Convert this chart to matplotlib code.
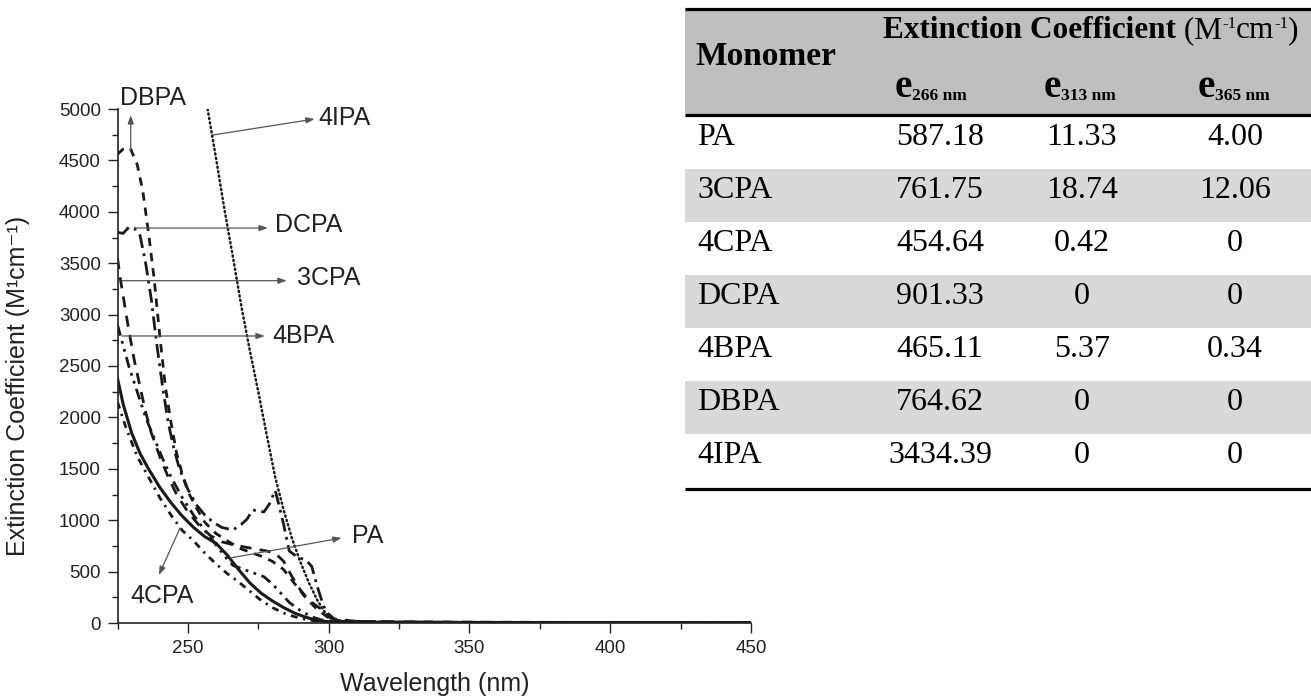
import matplotlib
matplotlib.use('Agg')
import matplotlib.pyplot as plt
from matplotlib.patches import Rectangle
from matplotlib.ticker import MultipleLocator

plt.rcParams['font.family'] = ['Liberation Sans', 'DejaVu Sans']

# --- spectra (wavelength nm, extinction coefficient) ---
pa_wl = [225, 227, 230, 233, 236, 240, 244, 248, 252, 256, 260, 264, 268, 272, 276, 280, 284, 288, 292, 296, 300, 310, 330, 360, 400, 450]
pa_val = [2380, 2130, 1850, 1650, 1500, 1320, 1170, 1040, 930, 840, 775, 660, 520, 390, 290, 215, 150, 95, 55, 25, 12, 8, 6, 5, 5, 4]

cpa4_wl = [225, 228, 232, 236, 240, 244, 248, 252, 256, 260, 264, 268, 272, 276, 280, 285, 290, 295, 300, 320, 360, 450]
cpa4_val = [2150, 1900, 1620, 1420, 1220, 1050, 900, 800, 680, 575, 480, 400, 310, 220, 150, 85, 45, 20, 10, 6, 5, 3]

bpa4_wl = [225, 227, 229, 232, 235, 238, 241, 244, 248, 252, 256, 260, 264, 266, 270, 274, 277, 280, 283, 286, 290, 294, 298, 302, 350, 450]
bpa4_val = [2900, 2700, 2500, 2250, 2000, 1800, 1600, 1420, 1220, 1050, 900, 760, 620, 560, 520, 480, 450, 380, 290, 200, 120, 60, 25, 10, 5, 3]

cpa3_wl = [225, 226, 227.5, 229, 231, 233, 235, 237, 240, 243, 246, 250, 254, 258, 262, 266, 270, 274, 278, 281, 284, 287, 290, 293, 296, 299, 302, 310, 350, 400, 450]
cpa3_val = [3550, 3350, 3100, 2850, 2550, 2300, 2050, 1850, 1620, 1420, 1250, 1080, 950, 850, 790, 762, 740, 720, 700, 680, 600, 450, 320, 220, 160, 110, 40, 15, 8, 5, 3]

dcpa_wl = [225, 227, 229, 231, 233, 235, 237, 239, 241, 243, 245, 247, 250, 253, 256, 259, 262, 266, 269, 271, 273, 275, 277, 279, 281, 282.5, 284, 286, 289, 292, 294, 296, 298, 300, 303, 320, 360, 450]
dcpa_val = [3800, 3790, 3850, 3840, 3770, 3500, 3150, 2700, 2300, 1950, 1700, 1500, 1300, 1150, 1050, 980, 930, 905, 960, 1010, 1100, 1090, 1080, 1160, 1290, 1130, 960, 700, 640, 610, 550, 350, 180, 60, 20, 10, 6, 4]

dbpa_wl = [225, 227, 229.5, 232, 234, 236, 238, 240, 242, 244, 246, 248, 250, 253, 256, 260, 264, 266, 268, 272, 276, 280, 284, 288, 292, 296, 300, 305, 320, 350, 400, 450]
dbpa_val = [4560, 4610, 4620, 4460, 4200, 3800, 3350, 2800, 2300, 1950, 1650, 1450, 1280, 1120, 980, 870, 800, 766, 730, 690, 650, 600, 520, 380, 240, 130, 50, 15, 8, 5, 4, 3]

ipa4_wl = [257, 260, 263, 266, 269, 272, 275, 278, 281, 284, 287, 290, 293, 296, 299, 301, 305, 320, 360, 400, 450]
ipa4_val = [5000, 4520, 4020, 3560, 3080, 2650, 2250, 1830, 1420, 1100, 820, 590, 390, 220, 90, 40, 15, 8, 6, 5, 4]

# --- table ---
monomers = ['PA', '3CPA', '4CPA', 'DCPA', '4BPA', 'DBPA', '4IPA']
e266 = ['587.18', '761.75', '454.64', '901.33', '465.11', '764.62', '3434.39']
e313 = ['11.33', '18.74', '0.42', '0', '5.37', '0', '0']
e365 = ['4.00', '12.06', '0', '0', '0.34', '0', '0']
sub_heads = ['266 nm', '313 nm', '365 nm']

W, H = 1311, 700
fig = plt.figure(figsize=(W / 100, H / 100), dpi=100)

ax = fig.add_axes([117.5 / W, 77 / H, 633.5 / W, 514 / H])
ink = '#1a1a1a'
ax.plot(pa_wl, pa_val, color=ink, lw=2.2)
ax.plot(cpa4_wl, cpa4_val, color=ink, lw=2, dashes=(2.5, 2, 0.8, 2))
ax.plot(bpa4_wl, bpa4_val, color=ink, lw=2, dashes=(4, 2, 1, 2, 1, 2))
ax.plot(cpa3_wl, cpa3_val, color=ink, lw=2, dashes=(4, 3))
ax.plot(dcpa_wl, dcpa_val, color=ink, lw=2, dashes=(5, 2, 1, 2))
ax.plot(dbpa_wl, dbpa_val, color=ink, lw=2, dashes=(3, 2.5))
ax.plot(ipa4_wl, ipa4_val, color=ink, lw=1.8, dashes=(0.5, 1.3), dash_capstyle='round')

ax.set_xlim(225, 450)
ax.set_ylim(0, 5000)
for s in ['top', 'right']:
    ax.spines[s].set_visible(False)
for s in ['left', 'bottom']:
    ax.spines[s].set_linewidth(1.2)
    ax.spines[s].set_color('#222')
ax.xaxis.set_major_locator(MultipleLocator(50))
ax.xaxis.set_minor_locator(MultipleLocator(25))
ax.yaxis.set_major_locator(MultipleLocator(500))
ax.yaxis.set_minor_locator(MultipleLocator(250))
ax.tick_params(which='major', length=7, width=1, colors='#222', labelsize=13.5, pad=5)
ax.tick_params(which='minor', length=4, width=1, colors='#222')
ax.set_xlabel('Wavelength (nm)', fontsize=18, color='#222')
ax.set_ylabel('Extinction Coefficient (M¹cm⁻¹)', fontsize=18, color='#222')
ax.xaxis.set_label_coords(0.501, -0.095)
ax.yaxis.set_label_coords(-0.138, 0.461)

# labels with thin arrows pointing from each curve to its name
labels = [
    ('DBPA', (225.9, 5039), (229.7, 4600), (229.7, 4940)),
    ('4IPA', (296.5, 4844), (258.9, 4747), (295.0, 4903)),
    ('DCPA', (280.9, 3803), (231.2, 3842), (278.4, 3842)),
    ('3CPA', (288.7, 3288), (226.6, 3330), (285.1, 3330)),
    ('4BPA', (280.1, 2724), (226.6, 2792), (277.3, 2792)),
    ('PA', (308.2, 778), (264.9, 632), (304.6, 827)),
    ('4CPA', (229.4, 195), (247.2, 924), (239.7, 467)),
]
for name, tpos, tail, head in labels:
    ax.annotate('', xy=head, xytext=tail,
                arrowprops=dict(arrowstyle='-|>,head_length=0.5,head_width=0.18',
                                color='#555', lw=0.9, shrinkA=0, shrinkB=0),
                annotation_clip=False)
    ax.text(tpos[0], tpos[1], name, fontsize=18, color='#222',
            ha='left', va='baseline', clip_on=False)

# table drawn on a full-figure pixel overlay
tab = fig.add_axes([0, 0, 1, 1])
tab.set_xlim(0, W)
tab.set_ylim(H, 0)
tab.axis('off')
renderer = fig.canvas.get_renderer()

serif = ['Liberation Serif', 'DejaVu Serif']
left, right = 685, W
tab.add_patch(Rectangle((left, 9), right - left, 105, color='#bfbfbf', lw=0))
row_top, row_h = 116, 53
for i, m in enumerate(monomers):
    top = row_top + i * row_h
    if i % 2 == 1:
        tab.add_patch(Rectangle((left, top), right - left, row_h, color='#d9d9d9', lw=0))
    base = top + 29
    tab.text(697, base, m, family=serif, fontsize=23, ha='left', va='baseline')
    tab.text(940, base, e266[i], family=serif, fontsize=23, ha='center', va='baseline')
    tab.text(1082, base, e313[i], family=serif, fontsize=23, ha='center', va='baseline')
    tab.text(1235, base, e365[i], family=serif, fontsize=23, ha='center', va='baseline')

for y in [8.5, 115, 489]:
    tab.plot([left, right], [y, y], color='k', lw=2.3, solid_capstyle='butt')

tab.text(695, 65, 'Monomer', family=serif, fontsize=24, fontweight='bold',
         ha='left', va='baseline')


def text_run(x, y, pieces):
    # place pieces one after another, measuring each in pixels
    for s, size, weight, dy in pieces:
        t = tab.text(x, y + dy, s, family=serif, fontsize=size, fontweight=weight,
                     ha='left', va='baseline')
        x += t.get_window_extent(renderer).width
    return x


text_run(883, 38, [('Extinction Coefficient', 22.5, 'bold', 0),
                   (' (M', 22.5, 'normal', 0),
                   ('-1', 12, 'normal', -10),
                   ('cm', 22.5, 'normal', 0),
                   ('-1', 12, 'normal', -10),
                   (')', 22.5, 'normal', 0)])

for x0, sub in zip([895, 1044, 1198], sub_heads):
    text_run(x0, 97, [('e', 28, 'bold', 0), (sub, 12.5, 'bold', 3)])

fig.savefig('out.png', dpi=100)
